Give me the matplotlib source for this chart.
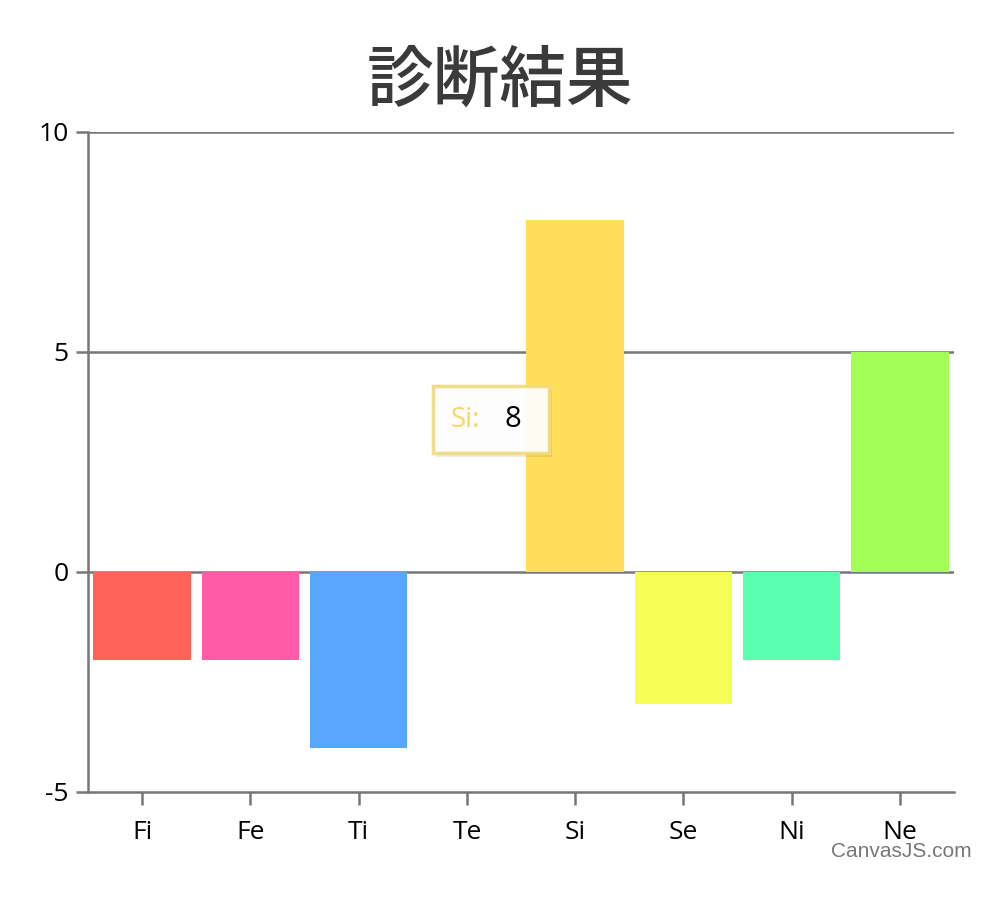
import matplotlib
matplotlib.use("Agg")
import matplotlib.pyplot as plt
from matplotlib.patches import Rectangle

categories = ["Fi", "Fe", "Ti", "Te", "Si", "Se", "Ni", "Ne"]
values = [-2, -2, -4, 0, 8, -3, -2, 5]
colors = ["#FF6258", "#FF5BA6", "#58A6FF", "#FFFFFF", "#FFDE59",
          "#F5FF55", "#5AFFB0", "#A3FF55"]
yticks = [-5, 0, 5, 10]
ytick_labels = ["-5", "0", "5", "10"]

fig = plt.figure(figsize=(9.99, 9.22), dpi=100)
ax = fig.add_axes([0.0881, 0.141, 0.867, 0.716])

x = list(range(len(categories)))
ax.bar(x, values, width=0.9, color=colors, zorder=3)

ax.set_xlim(-0.5, 7.5)
ax.set_ylim(-5, 10)
ax.set_yticks(yticks)
ax.set_yticklabels(ytick_labels)
ax.set_xticks(x)
ax.set_xticklabels(categories)

grid_c = "#777777"
for yv in [0, 5, 10]:
    ax.axhline(yv, color=grid_c, lw=1.8, zorder=2)

for s in ["top", "right"]:
    ax.spines[s].set_visible(False)
for s in ["left", "bottom"]:
    ax.spines[s].set_color(grid_c)
    ax.spines[s].set_linewidth(1.8)

ax.tick_params(axis="both", colors=grid_c, width=1.8, length=9,
               labelcolor="black", labelsize=19)
ax.tick_params(axis="x", pad=11)
ax.tick_params(axis="y", pad=5)
for lab in ax.get_xticklabels() + ax.get_yticklabels():
    lab.set_family("Open Sans")

fig.text(0.5, 0.912, "診断結果", ha="center", va="center", fontsize=48,
         fontweight="medium", color="#3A3A3A",
         family=["Noto Sans CJK JP", "DejaVu Sans"])

# tooltip (hovered on Si)
bx, by, bw, bh = 0.4334, 0.5087, 0.1161, 0.0727
fig.patches.append(Rectangle((bx + 0.003, by - 0.004), bw, bh, transform=fig.transFigure,
                             fc="#000000", alpha=0.08, ec="none", zorder=5))
fig.patches.append(Rectangle((bx, by), bw, bh, transform=fig.transFigure,
                             fc="white", alpha=0.93, ec="#F3DA7A", lw=2.5, zorder=6))
fig.text(0.466, 0.5445, categories[4] + ":", ha="center", va="center", fontsize=20,
         color="#F5D66A", family="Open Sans", zorder=7)
fig.text(0.513, 0.5445, str(values[4]), ha="center", va="center", fontsize=21,
         color="black", family="Open Sans", zorder=7)

fig.text(0.973, 0.077, "CanvasJS.com", ha="right", va="center", fontsize=15,
         color="#777777", family="Liberation Sans")

fig.savefig("out.png", dpi=100, facecolor="white")
